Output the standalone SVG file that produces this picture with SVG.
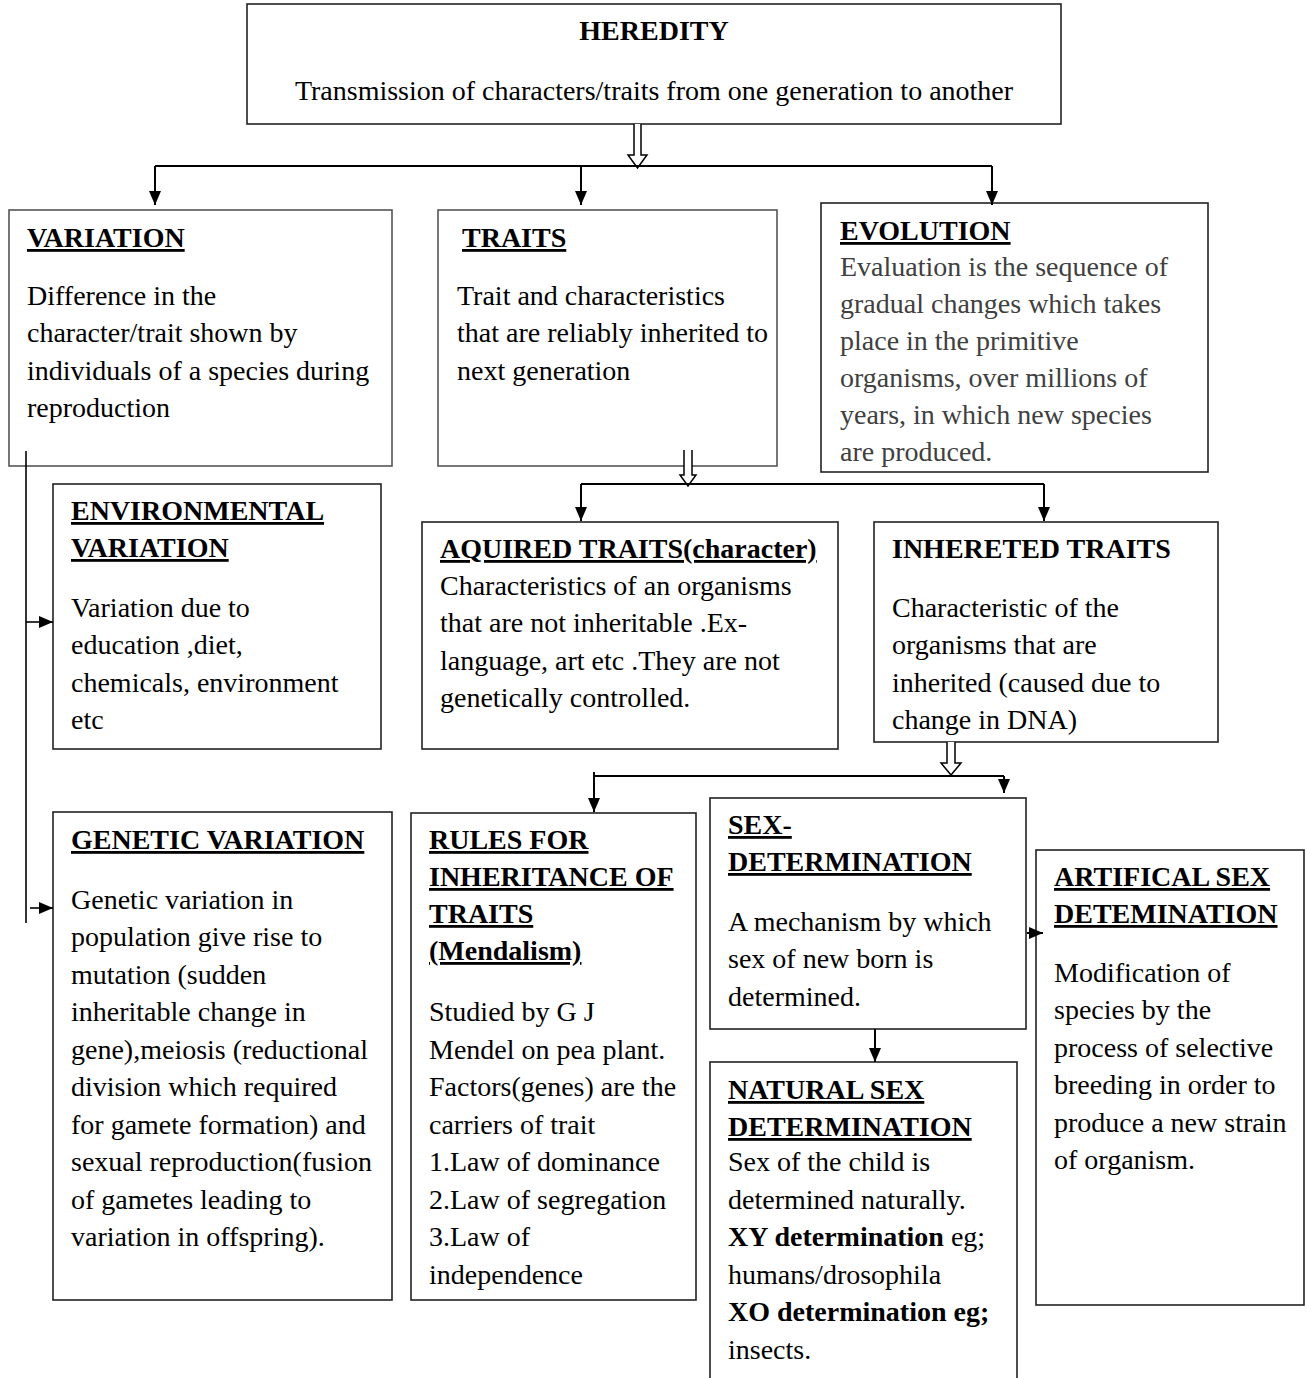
<svg xmlns="http://www.w3.org/2000/svg" width="1307" height="1378" viewBox="0 0 1307 1378">
<style>
text{font-family:"Liberation Serif","Times New Roman",serif;font-size:28px;fill:#000}
.t{font-weight:bold;font-size:28px;text-decoration:underline}
.tn{font-weight:bold;font-size:28px}
.g{fill:#404040}
.box{fill:#fff;stroke:#222;stroke-width:1.6}
.ln{fill:none;stroke:#000;stroke-width:2}
.ha{fill:#fff;stroke:#000;stroke-width:1.5}
</style>
<defs>
<marker id="ar" viewBox="0 0 14 12" refX="14" refY="6" markerWidth="14" markerHeight="12" orient="auto" markerUnits="userSpaceOnUse">
<path d="M0,0 L14,6 L0,12 z" fill="#000"/>
</marker>
</defs>
<rect width="1307" height="1378" fill="#fff"/>

<g id="heredity">
<rect class="box" x="247" y="4" width="814" height="120"/>
<text class="tn" x="654" y="40" text-anchor="middle">HEREDITY</text>
<text x="654" y="100" text-anchor="middle">Transmission of characters/traits from one generation to another</text>
</g>

<g id="variation">
<rect class="box" x="9" y="210" width="383" height="256" style="stroke:#555"/>
<text class="t" x="27" y="247">VARIATION</text>
<text x="27" y="305">Difference in the</text>
<text x="27" y="342">character/trait shown by</text>
<text x="27" y="380">individuals of a species during</text>
<text x="27" y="417">reproduction</text>
</g>

<g id="traits">
<rect class="box" x="438" y="210" width="339" height="256" style="stroke:#555"/>
<text class="t" x="462" y="247">TRAITS</text>
<text x="457" y="305">Trait and characteristics</text>
<text x="457" y="342">that are reliably inherited to</text>
<text x="457" y="380">next generation</text>
</g>

<g id="evolution">
<rect class="box" x="821" y="203" width="387" height="269"/>
<text class="t" x="840" y="240">EVOLUTION</text>
<text class="g" x="840" y="276">Evaluation is the sequence of</text>
<text class="g" x="840" y="313">gradual changes which takes</text>
<text class="g" x="840" y="350">place in the primitive</text>
<text class="g" x="840" y="387">organisms, over millions of</text>
<text class="g" x="840" y="424">years, in which new species</text>
<text class="g" x="840" y="461">are produced.</text>
</g>

<g id="environmental">
<rect class="box" x="53" y="484" width="328" height="265"/>
<text class="t" x="71" y="520">ENVIRONMENTAL</text>
<text class="t" x="71" y="557">VARIATION</text>
<text x="71" y="617">Variation due to</text>
<text x="71" y="654">education ,diet,</text>
<text x="71" y="692">chemicals, environment</text>
<text x="71" y="729">etc</text>
</g>

<g id="acquired">
<rect class="box" x="422" y="522" width="416" height="227"/>
<text class="t" x="440" y="558">AQUIRED TRAITS(character)</text>
<text x="440" y="595">Characteristics of an organisms</text>
<text x="440" y="632">that are not inheritable .Ex-</text>
<text x="440" y="670">language, art etc .They are not</text>
<text x="440" y="707">genetically controlled.</text>
</g>

<g id="inherited">
<rect class="box" x="874" y="522" width="344" height="220"/>
<text class="tn" x="892" y="558">INHERETED TRAITS</text>
<text x="892" y="617">Characteristic of the</text>
<text x="892" y="654">organisms that are</text>
<text x="892" y="692">inherited (caused due to</text>
<text x="892" y="729">change in DNA)</text>
</g>

<g id="genetic">
<rect class="box" x="53" y="812" width="339" height="488"/>
<text class="t" x="71" y="849">GENETIC VARIATION</text>
<text x="71" y="909">Genetic variation in</text>
<text x="71" y="946">population give rise to</text>
<text x="71" y="984">mutation (sudden</text>
<text x="71" y="1021">inheritable change in</text>
<text x="71" y="1059">gene),meiosis (reductional</text>
<text x="71" y="1096">division which required</text>
<text x="71" y="1134">for gamete formation) and</text>
<text x="71" y="1171">sexual reproduction(fusion</text>
<text x="71" y="1209">of gametes leading to</text>
<text x="71" y="1246">variation in offspring).</text>
</g>

<g id="rules">
<rect class="box" x="411" y="813" width="285" height="487"/>
<text class="t" x="429" y="849">RULES FOR</text>
<text class="t" x="429" y="886">INHERITANCE OF</text>
<text class="t" x="429" y="923">TRAITS</text>
<text class="t" x="429" y="960">(Mendalism)</text>
<text x="429" y="1021">Studied by G J</text>
<text x="429" y="1059">Mendel on pea plant.</text>
<text x="429" y="1096">Factors(genes) are the</text>
<text x="429" y="1134">carriers of trait</text>
<text x="429" y="1171">1.Law of dominance</text>
<text x="429" y="1209">2.Law of segregation</text>
<text x="429" y="1246">3.Law of</text>
<text x="429" y="1284">independence</text>
</g>

<g id="sexdet">
<rect class="box" x="710" y="798" width="316" height="231"/>
<text class="t" x="728" y="834">SEX-</text>
<text class="t" x="728" y="871">DETERMINATION</text>
<text x="728" y="931">A mechanism by which</text>
<text x="728" y="968">sex of new born is</text>
<text x="728" y="1006">determined.</text>
</g>

<g id="natural">
<rect class="box" x="710" y="1062" width="307" height="330"/>
<text class="t" x="728" y="1099">NATURAL SEX</text>
<text class="t" x="728" y="1136">DETERMINATION</text>
<text x="728" y="1171">Sex of the child is</text>
<text x="728" y="1209">determined naturally.</text>
<text x="728" y="1246"><tspan font-weight="bold">XY determination</tspan> eg;</text>
<text x="728" y="1284">humans/drosophila</text>
<text x="728" y="1321" font-weight="bold">XO determination eg;</text>
<text x="728" y="1359">insects.</text>
</g>

<g id="artificial">
<rect class="box" x="1036" y="850" width="268" height="455"/>
<text class="t" x="1054" y="886">ARTIFICAL SEX</text>
<text class="t" x="1054" y="923">DETEMINATION</text>
<text x="1054" y="982">Modification of</text>
<text x="1054" y="1019">species by the</text>
<text x="1054" y="1057">process of selective</text>
<text x="1054" y="1094">breeding in order to</text>
<text x="1054" y="1132">produce a new strain</text>
<text x="1054" y="1169">of organism.</text>
</g>

<g id="connectors">
<path class="ha" d="M634,124 V155 H628 L637.5,168 L647,155 H641 V124"/>
<path class="ln" d="M155,166 H992"/>
<path class="ln" d="M155,166 V205" marker-end="url(#ar)"/>
<path class="ln" d="M581,166 V205" marker-end="url(#ar)"/>
<path class="ln" d="M992,166 V205" marker-end="url(#ar)"/>

<path class="ln" d="M26,451 V923" style="stroke-width:1.6"/>
<path class="ln" d="M26,622 H53" style="stroke-width:1.6" marker-end="url(#ar)"/>
<path class="ln" d="M30,908 H53" style="stroke-width:1.6" marker-end="url(#ar)"/>

<path class="ha" d="M684,450 V475 H680 L688,486 L696,475 H692 V450"/>
<path class="ln" d="M581,484 H1044"/>
<path class="ln" d="M581,484 V521" marker-end="url(#ar)"/>
<path class="ln" d="M1044,484 V521" marker-end="url(#ar)"/>

<path class="ha" d="M947,742 V763 H941 L951,775 L961,763 H955 V742"/>
<path class="ln" d="M594,776 H1004"/>
<path class="ln" d="M594,772 V812" marker-end="url(#ar)"/>
<path class="ln" d="M1004,776 V793" marker-end="url(#ar)"/>

<path class="ln" d="M875,1029 V1062" marker-end="url(#ar)"/>
<path class="ln" d="M1027,933 H1043" marker-end="url(#ar)"/>
</g>
</svg>
